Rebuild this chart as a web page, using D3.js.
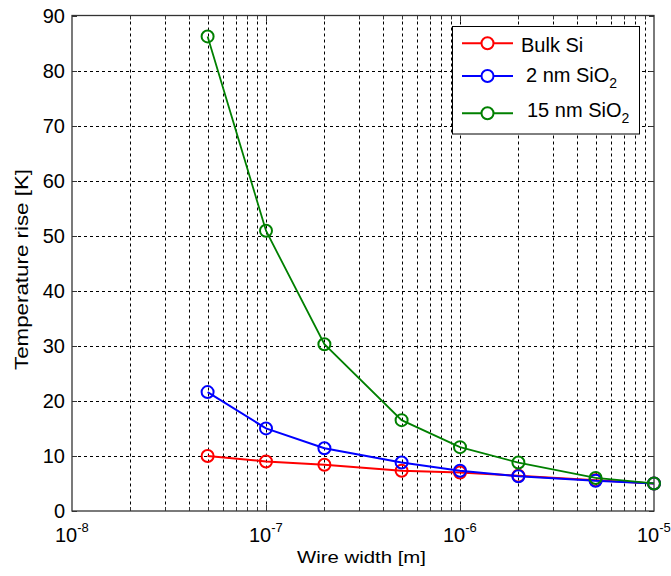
<!DOCTYPE html>
<html><head><meta charset="utf-8">
<script src="https://cdn.jsdelivr.net/npm/d3@7"></script>
<style>body{margin:0;background:#fff}svg{display:block}text{font-family:"Liberation Sans",Arial,sans-serif;fill:#000}</style>
</head><body>
<script>
const wireWidth = [5e-8, 1e-7, 2e-7, 5e-7, 1e-6, 2e-6, 5e-6, 1e-5];
const bulkSi    = [10.0, 9.0, 8.4, 7.3, 7.0, 6.4, 5.6, 5.0];
const sio2_2nm  = [21.6, 15.0, 11.4, 8.8, 7.3, 6.3, 5.5, 5.0];
const sio2_15nm = [86.2, 50.9, 30.3, 16.5, 11.6, 8.8, 6.0, 5.0];
const seriesNames = ["Bulk Si", "2 nm SiO", "15 nm SiO"];
const seriesSubs = ["", "2", "2"];
const seriesColors = ["#ff0000", "#0000ff", "#008000"];
const yTicks = [0,10,20,30,40,50,60,70,80,90];
const xMajor = [-8,-7,-6,-5];

const W = 671, H = 576;
const L = 72, R = 654, T = 15.5, B = 511;
const svg = d3.select("body").append("svg").attr("width", W).attr("height", H);
const x = d3.scaleLog().domain([1e-8, 1e-5]).range([L, R]);
const y = d3.scaleLinear().domain([0, 90]).range([B, T]);

// grid
const minorX = [];
for (let e = -8; e < -5; e++) for (let m = 1; m <= 9; m++) { if (!(e === -8 && m === 1)) minorX.push(m * Math.pow(10, e)); }
const g = svg.append("g");
g.selectAll(".gx").data(minorX).enter().append("line")
  .attr("x1", d => Math.round(x(d)) + 0.5).attr("x2", d => Math.round(x(d)) + 0.5)
  .attr("y1", T).attr("y2", B).attr("stroke", "#000").attr("stroke-width", 1).attr("stroke-dasharray", "3,3");
g.selectAll(".gy").data(yTicks.slice(1, -1)).enter().append("line")
  .attr("y1", d => Math.round(y(d)) + 0.5).attr("y2", d => Math.round(y(d)) + 0.5)
  .attr("x1", L).attr("x2", R).attr("stroke", "#000").attr("stroke-width", 1).attr("stroke-dasharray", "3,3");

// ticks inward on all sides
const tk = svg.append("g").attr("stroke", "#333").attr("stroke-width", 1);
yTicks.forEach(v => {
  const yy = Math.round(y(v)) + 0.5;
  tk.append("line").attr("x1", L).attr("x2", L + 5).attr("y1", yy).attr("y2", yy);
  tk.append("line").attr("x1", R - 5).attr("x2", R).attr("y1", yy).attr("y2", yy);
});
minorX.forEach(v => {
  const xx = Math.round(x(v)) + 0.5;
  const len = [1e-7, 1e-6].some(m => Math.abs(v - m) / m < 1e-6) ? 6 : 4;
  tk.append("line").attr("x1", xx).attr("x2", xx).attr("y1", B).attr("y2", B - len);
  tk.append("line").attr("x1", xx).attr("x2", xx).attr("y1", T).attr("y2", T + len);
});

// box
svg.append("rect").attr("x", L).attr("y", T).attr("width", R - L).attr("height", B - T)
  .attr("fill", "none").attr("stroke", "#333").attr("stroke-width", 1.3);

// y tick labels
svg.selectAll(".yl").data(yTicks).enter().append("text")
  .attr("x", 65).attr("y", d => y(d)).attr("dy", "0.36em").attr("text-anchor", "end")
  .style("font-size", "20px").text(d => d);

// x tick labels 10^k
xMajor.forEach(e => {
  const cx = x(Math.pow(10, e));
  const t = svg.append("text").attr("x", cx - 17).attr("y", 542).style("font-size", "20px");
  t.append("tspan").text("10");
  t.append("tspan").attr("dy", -10).style("font-size", "13px").text(String(e));
});

// axis labels
svg.append("text").attr("x", 297).attr("y", 563).attr("textLength", 129).attr("lengthAdjust", "spacingAndGlyphs")
  .style("font-size", "16.5px").text("Wire width [m]");
svg.append("text").attr("transform", "translate(27.5,370) rotate(-90)")
  .attr("textLength", 201).attr("lengthAdjust", "spacingAndGlyphs")
  .style("font-size", "17.5px").text("Temperature rise [K]");

// series
const series = [bulkSi, sio2_2nm, sio2_15nm];
const line = d3.line().x(d => x(d[0])).y(d => y(d[1]));
series.forEach((vals, i) => {
  const pts = wireWidth.map((w, j) => [w, vals[j]]);
  svg.append("path").datum(pts).attr("d", line).attr("fill", "none")
    .attr("stroke", seriesColors[i]).attr("stroke-width", i === 2 ? 1.8 : 2);
  svg.selectAll(".m" + i).data(pts).enter().append("circle")
    .attr("cx", d => x(d[0])).attr("cy", d => y(d[1])).attr("r", 6)
    .attr("fill", "none").attr("stroke", seriesColors[i]).attr("stroke-width", 2);
});

// legend
svg.append("rect").attr("x", 452.5).attr("y", 26.5).attr("width", 187).attr("height", 107.5)
  .attr("fill", "#fff").attr("stroke", "#000").attr("stroke-width", 1);
const legY = [43.3, 76, 113.3];
const legTextX = [521, 526, 527];
const legBase = [52, 82, 117];
seriesNames.forEach((nm, i) => {
  svg.append("line").attr("x1", 462).attr("x2", 513).attr("y1", legY[i]).attr("y2", legY[i])
    .attr("stroke", seriesColors[i]).attr("stroke-width", 2);
  svg.append("circle").attr("cx", 487.5).attr("cy", legY[i]).attr("r", 6)
    .attr("fill", "#fff").attr("stroke", seriesColors[i]).attr("stroke-width", 2);
  const t = svg.append("text").attr("x", legTextX[i]).attr("y", legBase[i]).style("font-size", "20px");
  t.append("tspan").text(nm);
  if (seriesSubs[i]) t.append("tspan").attr("dy", 6).style("font-size", "14px").text(seriesSubs[i]);
});
</script>
</body></html>
